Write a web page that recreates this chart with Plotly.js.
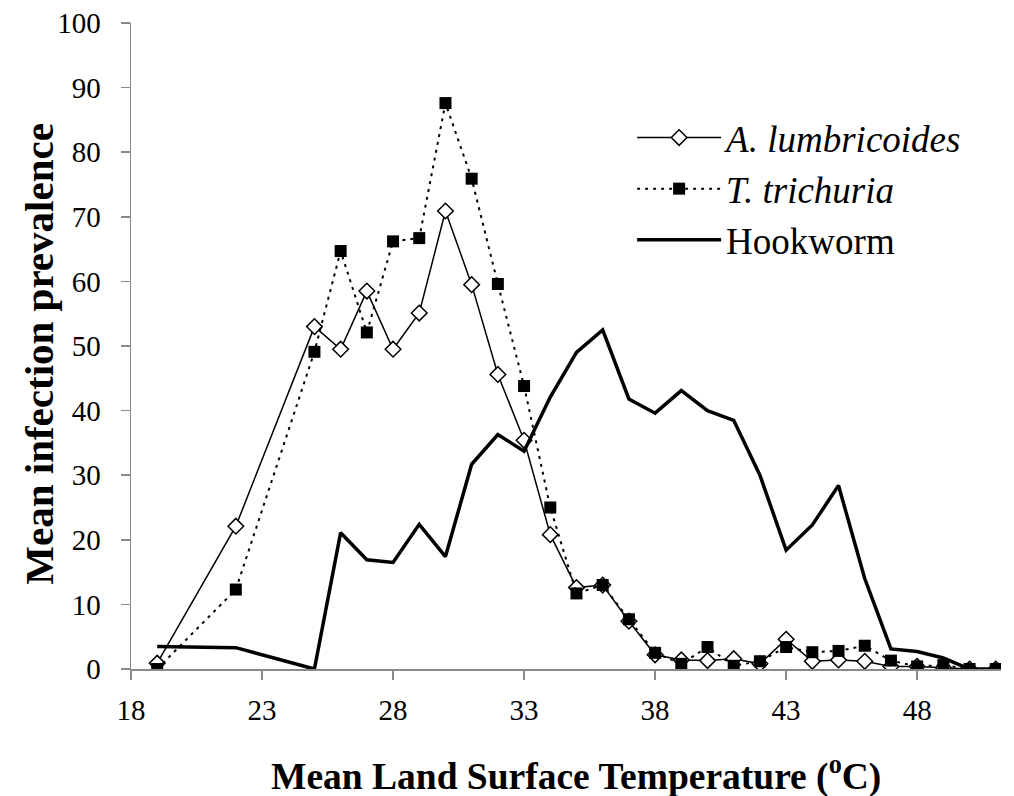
<!DOCTYPE html>
<html>
<head>
<meta charset="utf-8">
<script src="https://cdn.plot.ly/plotly-3.0.1.min.js"></script>
<style>html,body{margin:0;padding:0;background:#fff;}#chart{width:1014px;height:796px;}</style>
</head>
<body>
<div id="chart"></div>
<script>
// Mean land surface temperature (°C)
const temps = [19,22,25,26,27,28,29,30,31,32,33,34,35,36,37,38,39,40,41,42,43,44,45,46,47,48,49,50,51];
// Mean infection prevalence (%)
const ascaris   = [0.9,22.1,53.0,49.5,58.5,49.5,55.1,70.9,59.5,45.6,35.4,20.8,12.6,13.0,7.4,2.2,1.4,1.3,1.6,0.8,4.6,1.2,1.4,1.2,0.4,0.4,0.2,0,0];
const trichuris = [0,12.3,49.1,64.7,52.1,66.2,66.7,87.6,75.9,59.6,43.8,25.0,11.7,13.0,7.7,2.5,0.8,3.4,0.5,1.2,3.4,2.6,2.8,3.6,1.3,0.4,0.6,0,0];
const hookworm  = [3.5,3.3,0,21.1,16.9,16.5,22.4,17.4,31.7,36.3,33.7,42.1,49.0,52.5,41.8,39.6,43.1,40.0,38.5,30.0,18.4,22.3,28.4,14.0,3.1,2.7,1.7,0,0];
const seriesNames = ['<i>A. lumbricoides</i>', '<i>T. trichuria</i>', 'Hookworm'];
const xTicks = [18,23,28,33,38,43,48];
const yTicks = [0,10,20,30,40,50,60,70,80,90,100];
const xTitle = 'Mean Land Surface Temperature (<sup>o</sup>C)';
const yTitle = 'Mean infection prevalence';

const serif = 'Liberation Serif';
const axisGray = '#8a8a8a';

const traces = [
  {
    x: temps, y: ascaris, name: seriesNames[0], type: 'scatter', mode: 'lines+markers',
    line: {color: '#000', width: 1.5},
    marker: {symbol: 'diamond', size: 12, color: '#fff', line: {color: '#000', width: 1.5}}
  },
  {
    x: temps, y: trichuris, name: seriesNames[1], type: 'scatter', mode: 'lines+markers',
    line: {color: '#000', width: 2, dash: '3px,5px'},
    marker: {symbol: 'square', size: 12, color: '#000'}
  },
  {
    x: temps, y: hookworm, name: seriesNames[2], type: 'scatter', mode: 'lines',
    line: {color: '#000', width: 3.5}
  }
];

const layout = {
  width: 1014, height: 796,
  margin: {l: 131, r: 13, t: 23, b: 127},
  paper_bgcolor: '#fff', plot_bgcolor: '#fff',
  font: {family: serif, color: '#000', size: 29},
  showlegend: true,
  legend: {
    x: 0.576, y: 0.87, xanchor: 'left', yanchor: 'top',
    bgcolor: 'rgba(0,0,0,0)', borderwidth: 0,
    font: {family: serif, size: 37, color: '#000'},
    itemwidth: 84, tracegroupgap: 0
  },
  xaxis: {
    range: [18, 51.2], tickvals: xTicks, ticktext: xTicks.map(String),
    showline: true, linecolor: axisGray, linewidth: 1.5,
    ticks: 'outside', ticklen: 9, tickwidth: 1.5, tickcolor: axisGray,
    showgrid: false, zeroline: false,
    tickfont: {family: serif, size: 29, color: '#000'},
    ticklabelstandoff: 6
  },
  yaxis: {
    range: [0, 100], tickvals: yTicks, ticktext: yTicks.map(String),
    showline: true, linecolor: axisGray, linewidth: 1.5,
    ticks: 'outside', ticklen: 9, tickwidth: 1.5, tickcolor: axisGray,
    showgrid: false, zeroline: false,
    tickfont: {family: serif, size: 29, color: '#000'},
    ticklabelstandoff: 14
  },
  annotations: [
    {
      text: xTitle, xref: 'paper', yref: 'paper', x: 0.5116, y: -0.162,
      xanchor: 'center', yanchor: 'middle', showarrow: false,
      font: {family: serif, size: 37.5, weight: 'bold', color: '#000'}
    },
    {
      text: yTitle, xref: 'paper', yref: 'paper', x: -0.1058, y: 0.488,
      xanchor: 'center', yanchor: 'middle', showarrow: false, textangle: -90,
      font: {family: serif, size: 41, weight: 'bold', color: '#000'}
    }
  ]
};

Plotly.newPlot('chart', traces, layout, {displayModeBar: false, staticPlot: true});
</script>
</body>
</html>
